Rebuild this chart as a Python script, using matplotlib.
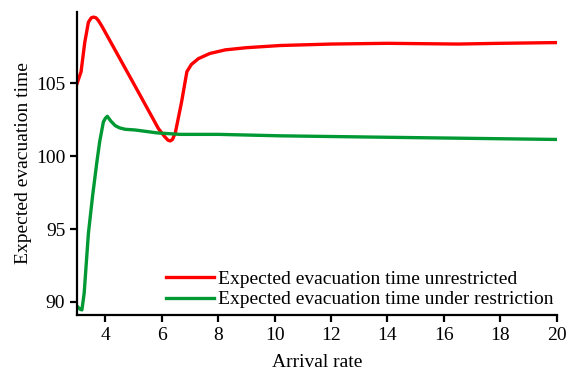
import matplotlib
matplotlib.use("Agg")
import matplotlib.pyplot as plt

plt.rcParams['font.family'] = ['Liberation Serif', 'DejaVu Serif']

# Data
x_unres = [3.0, 3.14, 3.27, 3.4, 3.5, 3.58, 3.67, 3.76, 3.9, 4.5, 5.2, 5.88, 6.1, 6.22, 6.3, 6.38, 6.48, 6.7, 6.89, 7.05, 7.3, 7.7, 8.25, 9.0, 10.2, 12.0, 14.0, 16.5, 18.0, 20.0]
y_unres = [105.0, 105.8, 107.8, 109.2, 109.5, 109.55, 109.5, 109.3, 108.85, 106.75, 104.3, 101.9, 101.35, 101.1, 101.05, 101.15, 101.6, 103.7, 105.8, 106.3, 106.7, 107.05, 107.3, 107.45, 107.6, 107.7, 107.75, 107.7, 107.75, 107.8]

x_res = [3.0, 3.1, 3.17, 3.25, 3.4, 3.55, 3.7, 3.8, 3.93, 4.0, 4.07, 4.2, 4.35, 4.5, 4.7, 5.06, 5.84, 6.65, 8.0, 10.2, 14.0, 16.0, 18.0, 20.0]
y_res = [89.7, 89.5, 89.45, 90.6, 94.7, 97.3, 99.6, 101.0, 102.35, 102.6, 102.74, 102.4, 102.1, 101.95, 101.85, 101.8, 101.6, 101.5, 101.5, 101.4, 101.3, 101.25, 101.2, 101.15]

x_ticks = [4, 6, 8, 10, 12, 14, 16, 18, 20]
y_ticks = [90, 95, 100, 105]

fig = plt.figure(figsize=(5.67, 3.75), dpi=100)
ax = fig.add_axes([0.136, 0.16, 0.846, 0.808])

ax.plot(x_unres, y_unres, color='#ff0000', lw=2.4, label='Expected evacuation time unrestricted')
ax.plot(x_res, y_res, color='#009933', lw=2.4, label='Expected evacuation time under restriction')

ax.set_xlim(3, 20)
ax.set_ylim(89.1, 109.9)
ax.set_xticks(x_ticks)
ax.set_yticks(y_ticks)
for s in ['top', 'right']:
    ax.spines[s].set_visible(False)
for s in ['left', 'bottom']:
    ax.spines[s].set_linewidth(1.6)
ax.tick_params(direction='out', length=5, width=1.6, labelsize=14)
ax.set_xlabel('Arrival rate', fontsize=14, labelpad=7)
ax.set_ylabel('Expected evacuation time', fontsize=14, labelpad=3)

ax.legend(loc='lower right', bbox_to_anchor=(0.9925, 0.022), frameon=False, fontsize=14,
          handlelength=2.45, handletextpad=0.2, labelspacing=0.15, borderaxespad=0.0,
          borderpad=0.0)

fig.savefig('out.png', dpi=100)
